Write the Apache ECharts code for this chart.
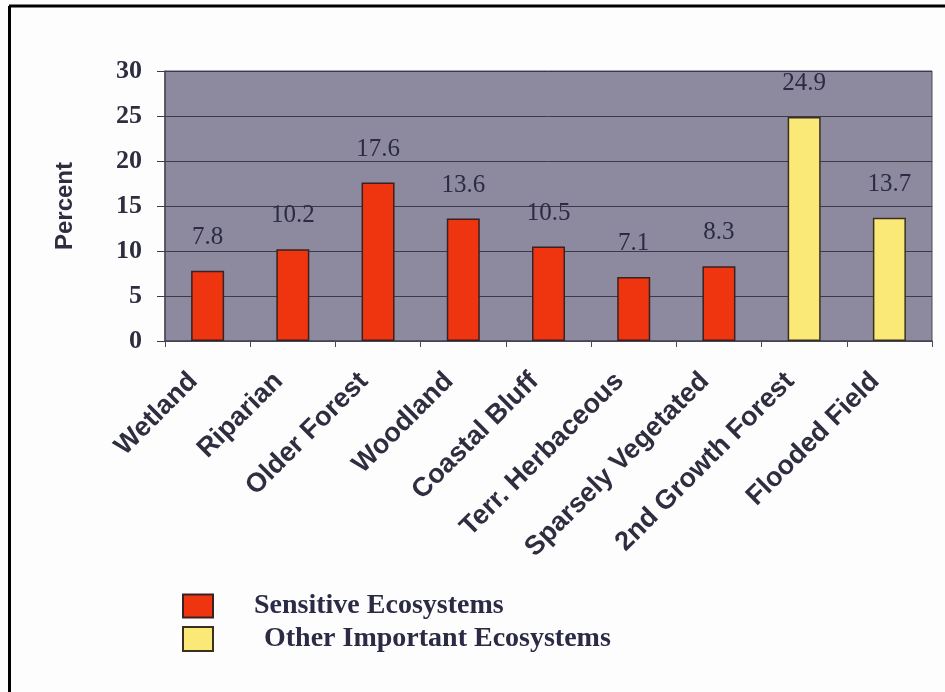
<!DOCTYPE html>
<html>
<head>
<meta charset="utf-8">
<script src="https://cdn.jsdelivr.net/npm/echarts@6/dist/echarts.min.js"></script>
<style>html,body{margin:0;padding:0;background:#fff;}#c{width:945px;height:692px;}</style>
</head>
<body>
<div id="c"></div>
<script>
var categories = ['Wetland','Riparian','Older Forest','Woodland','Coastal Bluff','Terr. Herbaceous','Sparsely Vegetated','2nd Growth Forest','Flooded Field'];
var sensitiveValues = [7.8, 10.2, 17.6, 13.6, 10.5, 7.1, 8.3, '-', '-'];
var otherValues = ['-', '-', '-', '-', '-', '-', '-', 24.9, 13.7];
var yTicks = [0, 5, 10, 15, 20, 25, 30];
var seriesNames = ['Sensitive Ecosystems', 'Other Important Ecosystems'];

var chart = echarts.init(document.getElementById('c'));
var labelStyle = {
  show: true, position: 'top', distance: 21,
  fontFamily: 'Liberation Serif', fontSize: 25, color: '#2b2b45'
};
chart.setOption({
  animation: false,
  backgroundColor: '#fdfdfe',
  graphic: [
    {type:'line', shape:{x1:9.5,y1:6,x2:9.5,y2:692}, style:{stroke:'#000',lineWidth:3}},
    {type:'line', shape:{x1:9,y1:6,x2:945,y2:6}, style:{stroke:'#000',lineWidth:3}}
  ],
  grid: {
    left: 165, right: 13, top: 71, bottom: 351,
    show: true, backgroundColor: '#8d8a9f', borderColor: '#4a4a5a', borderWidth: 1
  },
  legend: [
    {
      data: [seriesNames[0]], orient: 'vertical', left: 182, top: 592, icon: 'rect',
      itemWidth: 30, itemHeight: 23, padding: 0, selectedMode: false,
      textStyle: {fontFamily: 'Liberation Serif', fontWeight: 'bold', fontSize: 28, color: '#2b2b45', padding: [0,0,0,36]}
    },
    {
      data: [seriesNames[1]], orient: 'vertical', left: 182, top: 625, icon: 'rect',
      itemWidth: 30, itemHeight: 24, padding: 0, selectedMode: false,
      textStyle: {fontFamily: 'Liberation Serif', fontWeight: 'bold', fontSize: 28, color: '#2b2b45', padding: [0,0,0,46]}
    }
  ],
  xAxis: {
    type: 'category', data: categories,
    axisLine: {show: true, lineStyle: {color: '#4a4a5a', width: 1.5}},
    axisTick: {show: true, alignWithLabel: false, length: 6, lineStyle: {color: '#4a4a5a'}},
    axisLabel: {
      rotate: 45, interval: 0, margin: 22, padding: [0, 20, 0, 0],
      fontFamily: 'Liberation Sans', fontWeight: 'bold', fontSize: 27, color: '#2e2e40'
    }
  },
  yAxis: {
    type: 'value', min: 0, max: 30, interval: 5,
    name: 'Percent', nameLocation: 'middle', nameGap: 88, nameRotate: 90,
    nameTextStyle: {fontFamily: 'Liberation Sans', fontWeight: 'bold', fontSize: 24, color: '#2e2e40'},
    axisLine: {show: true, lineStyle: {color: '#4a4a5a', width: 1.5}},
    axisTick: {show: true, length: 8, lineStyle: {color: '#3a3a48'}},
    splitLine: {show: true, lineStyle: {color: '#3a3a48', width: 1}},
    axisLabel: {
      margin: 23, fontFamily: 'Liberation Serif', fontWeight: 'bold', fontSize: 26, color: '#2e2e40',
      formatter: function (v) { return yTicks.indexOf(v) >= 0 ? String(v) : ''; }
    }
  },
  series: [
    {
      name: seriesNames[0], type: 'bar', stack: 'all', data: sensitiveValues, barWidth: 33,
      itemStyle: {color: '#ee3510', borderColor: '#3a2020', borderWidth: 1.5},
      label: labelStyle
    },
    {
      name: seriesNames[1], type: 'bar', stack: 'all', data: otherValues, barWidth: 33,
      itemStyle: {color: '#fbe977', borderColor: '#3a3020', borderWidth: 1.5},
      label: labelStyle
    }
  ]
});
</script>
</body>
</html>
